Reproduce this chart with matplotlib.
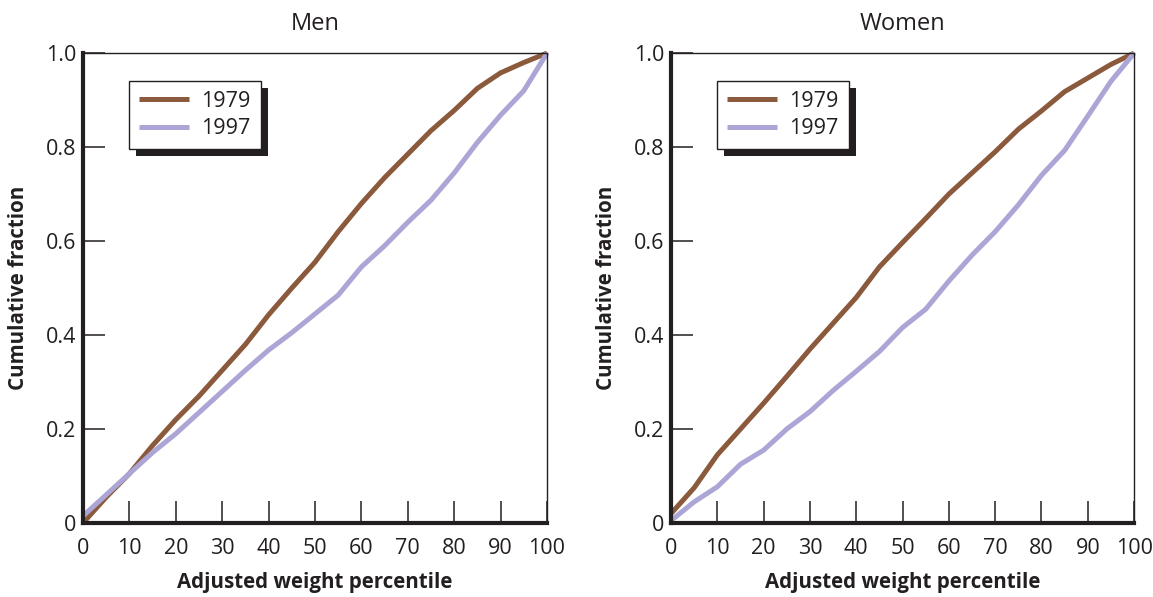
import matplotlib
matplotlib.use('Agg')
import matplotlib.pyplot as plt
from matplotlib.patches import Rectangle
from matplotlib.transforms import IdentityTransform
import numpy as np

plt.rcParams['font.family'] = ['Open Sans', 'DejaVu Sans']

# adjusted weight percentile (x) and cumulative fraction (y)
percentile = [0, 5, 10, 15, 20, 25, 30, 35, 40, 45, 50,
              55, 60, 65, 70, 75, 80, 85, 90, 95, 100]

men_1979 = [0.0, 0.055, 0.105, 0.165, 0.22, 0.27, 0.325, 0.38, 0.443, 0.50, 0.555,
            0.62, 0.68, 0.735, 0.785, 0.835, 0.878, 0.925, 0.958, 0.98, 1.0]
men_1997 = [0.015, 0.06, 0.105, 0.15, 0.19, 0.235, 0.28, 0.325, 0.368, 0.405, 0.445,
            0.485, 0.545, 0.59, 0.64, 0.687, 0.745, 0.81, 0.868, 0.92, 1.0]
women_1979 = [0.02, 0.075, 0.145, 0.20, 0.255, 0.312, 0.37, 0.425, 0.48, 0.545, 0.597,
              0.648, 0.70, 0.745, 0.79, 0.838, 0.877, 0.918, 0.947, 0.976, 1.0]
women_1997 = [0.005, 0.045, 0.077, 0.125, 0.155, 0.20, 0.237, 0.282, 0.323, 0.365, 0.416,
              0.455, 0.515, 0.57, 0.62, 0.677, 0.74, 0.793, 0.866, 0.94, 1.0]

panels = ['Men', 'Women']
series_labels = ['1979', '1997']
colors = ['#8b5a3c', '#aba6d6']
x_ticks = [0, 10, 20, 30, 40, 50, 60, 70, 80, 90, 100]
y_ticks = [0, 0.2, 0.4, 0.6, 0.8, 1.0]
y_tick_labels = ['0', '0.2', '0.4', '0.6', '0.8', '1.0']

ink = '#231f20'

fig = plt.figure(figsize=(11.53, 5.97), dpi=100)
ax_men = fig.add_axes([0.072, 0.124, 0.4024, 0.787])
ax_women = fig.add_axes([0.582, 0.124, 0.4016, 0.787])

data = {'Men': [men_1979, men_1997], 'Women': [women_1979, women_1997]}

legends = []
for ax, panel in zip([ax_men, ax_women], panels):
    for values, label, c in zip(data[panel], series_labels, colors):
        ax.plot(percentile, values, color=c, lw=3.6, label=label,
                solid_capstyle='butt', clip_on=False)

    ax.set_xlim(0, 100)
    ax.set_ylim(0, 1.0)
    ax.set_xticks(x_ticks)
    ax.set_yticks(y_ticks)
    ax.set_yticklabels(y_tick_labels)
    ax.tick_params(direction='in', length=16, width=1.1, color=ink,
                   labelsize=15.5, labelcolor=ink)
    ax.tick_params(axis='x', pad=11)
    ax.tick_params(axis='y', pad=5)

    for side in ['left', 'bottom']:
        ax.spines[side].set_linewidth(3.0)
        ax.spines[side].set_color(ink)
    for side in ['top', 'right']:
        ax.spines[side].set_linewidth(1.0)
        ax.spines[side].set_color(ink)

    ax.set_title(panel, fontsize=17, color=ink, pad=17)
    ax.set_xlabel('Adjusted weight percentile', fontsize=14.8, fontweight='bold',
                  color=ink, labelpad=9)
    ax.set_ylabel('Cumulative fraction', fontsize=14.8, fontweight='bold',
                  color=ink, labelpad=12)

    leg = ax.legend(loc='upper left', bbox_to_anchor=(0.1, 0.94), fontsize=15.5,
                    frameon=True, fancybox=False, framealpha=1, edgecolor=ink,
                    handlelength=2.3, handletextpad=0.6, borderpad=0.45,
                    labelspacing=0.3, borderaxespad=0)
    leg.get_frame().set_linewidth(1.0)
    for t in leg.get_texts():
        t.set_color(ink)
    legends.append((ax, leg))

# solid drop shadow behind each legend box
fig.canvas.draw()
for ax, leg in legends:
    bb = leg.get_frame().get_window_extent()
    shadow = Rectangle((bb.x0 + 7, bb.y0 - 7), bb.width, bb.height,
                       transform=IdentityTransform(), facecolor=ink,
                       edgecolor='none', zorder=4.9, clip_on=False)
    ax.add_patch(shadow)

fig.savefig('out.png', dpi=100)
